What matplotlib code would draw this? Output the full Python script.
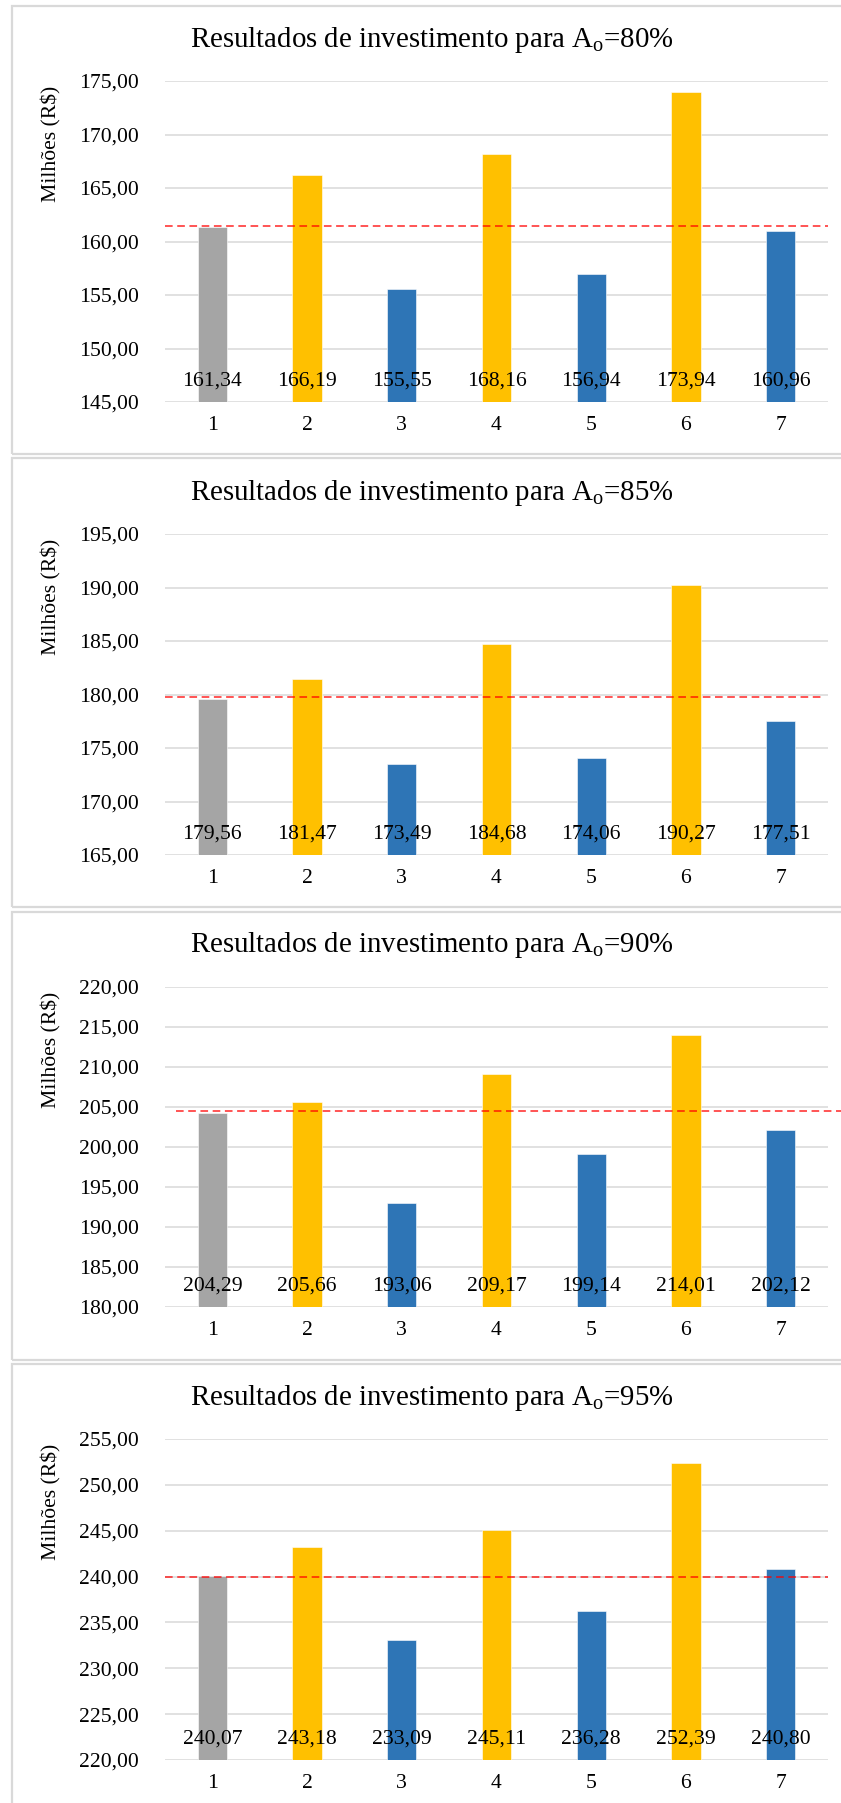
import matplotlib
matplotlib.use("Agg")
import matplotlib.pyplot as plt
from matplotlib.patches import Rectangle

plt.rcParams['font.family'] = ['Liberation Serif', 'DejaVu Serif']
plt.rcParams['mathtext.fontset'] = 'custom'
plt.rcParams['mathtext.rm'] = 'Liberation Serif'
plt.rcParams['mathtext.it'] = 'Liberation Serif:italic'

# investment results (millions of R$) per scenario, one list per availability level
categories = ['1', '2', '3', '4', '5', '6', '7']
levels = ['80', '85', '90', '95']
values_80 = [161.34, 166.19, 155.55, 168.16, 156.94, 173.94, 160.96]
values_85 = [179.56, 181.47, 173.49, 184.68, 174.06, 190.27, 177.51]
values_90 = [204.29, 205.66, 193.06, 209.17, 199.14, 214.01, 202.12]
values_95 = [240.07, 243.18, 233.09, 245.11, 236.28, 252.39, 240.80]
y_ranges = [(145, 175), (165, 195), (180, 220), (220, 255)]
ref_lines = [161.45, 179.75, 204.5, 239.95]

bar_colors = ['#A5A5A5', '#FFC000', '#2E75B6', '#FFC000', '#2E75B6', '#FFC000', '#2E75B6']

W, H = 841, 1803
fig = plt.figure(figsize=(W / 100, H / 100), dpi=100)

def fx(px):
    return px / W

def fy(py):
    return 1 - py / H

# pixel layout of each panel: frame top/bottom, plot top/bottom, title y
frames = [(6, 454), (458, 907), (912, 1360), (1364, 1812)]
plots = [(81, 402), (534, 855), (987, 1307), (1439, 1760)]
titles = [40, 493, 945, 1398]
line_spans = [(-0.5, 6.5), (-0.5, 6.45), (-0.38, 6.64), (-0.5, 6.5)]
ax_left, ax_right = 165, 828

all_values = [values_80, values_85, values_90, values_95]

for i, vals in enumerate(all_values):
    ftop, fbot = frames[i]
    fig.patches.append(Rectangle((fx(12), fy(fbot)), fx(852 - 12), (fbot - ftop) / H,
                                 transform=fig.transFigure, fill=False,
                                 edgecolor='#D9D9D9', linewidth=1.6, zorder=0))

    ptop, pbot = plots[i]
    ax = fig.add_axes([fx(ax_left), fy(pbot), fx(ax_right - ax_left), (pbot - ptop) / H])
    x = list(range(len(categories)))
    ax.bar(x, [v - y_ranges[i][0] for v in vals], bottom=y_ranges[i][0], width=0.31,
           color=bar_colors, edgecolor='white', linewidth=0.4, zorder=2)
    ax.set_xlim(-0.5, 6.5)
    ax.set_ylim(*y_ranges[i])
    lo, hi = y_ranges[i]
    ticks = list(range(lo, hi + 1, 5))
    ax.set_yticks(ticks)
    ax.set_yticklabels([f"{t:.2f}".replace('.', ',') for t in ticks])
    ax.set_xticks(x)
    ax.set_xticklabels(categories)
    ax.tick_params(axis='both', length=0, labelsize=15.6, colors='#000000')
    ax.tick_params(axis='y', pad=19)
    ax.tick_params(axis='x', pad=10)
    ax.grid(axis='y', color='#D9D9D9', linewidth=1.1, zorder=0)
    ax.set_axisbelow(True)
    for s in ax.spines.values():
        s.set_visible(False)

    for xi, v in zip(x, vals):
        ax.annotate(f"{v:.2f}".replace('.', ','), (xi, lo), xytext=(0, 15),
                    textcoords='offset points', ha='center', va='center',
                    fontsize=15.6, zorder=4)

    x0, x1 = line_spans[i]
    ax.hlines(ref_lines[i], x0, x1, colors='#FF0000', linestyles=(0, (5, 3)),
              linewidth=1.1, alpha=0.85, zorder=3, clip_on=False)

    fig.text(fx(432), fy(titles[i]),
             r'Resultados de investimento para A$_{\mathrm{o}}$=' + levels[i] + '%',
             ha='center', va='center', fontsize=20.8)
    fig.text(fx(51), fy(ptop + 63), 'Milhões (R$)', rotation=90,
             ha='center', va='center', fontsize=15.6)

fig.savefig('out.png', dpi=100)
